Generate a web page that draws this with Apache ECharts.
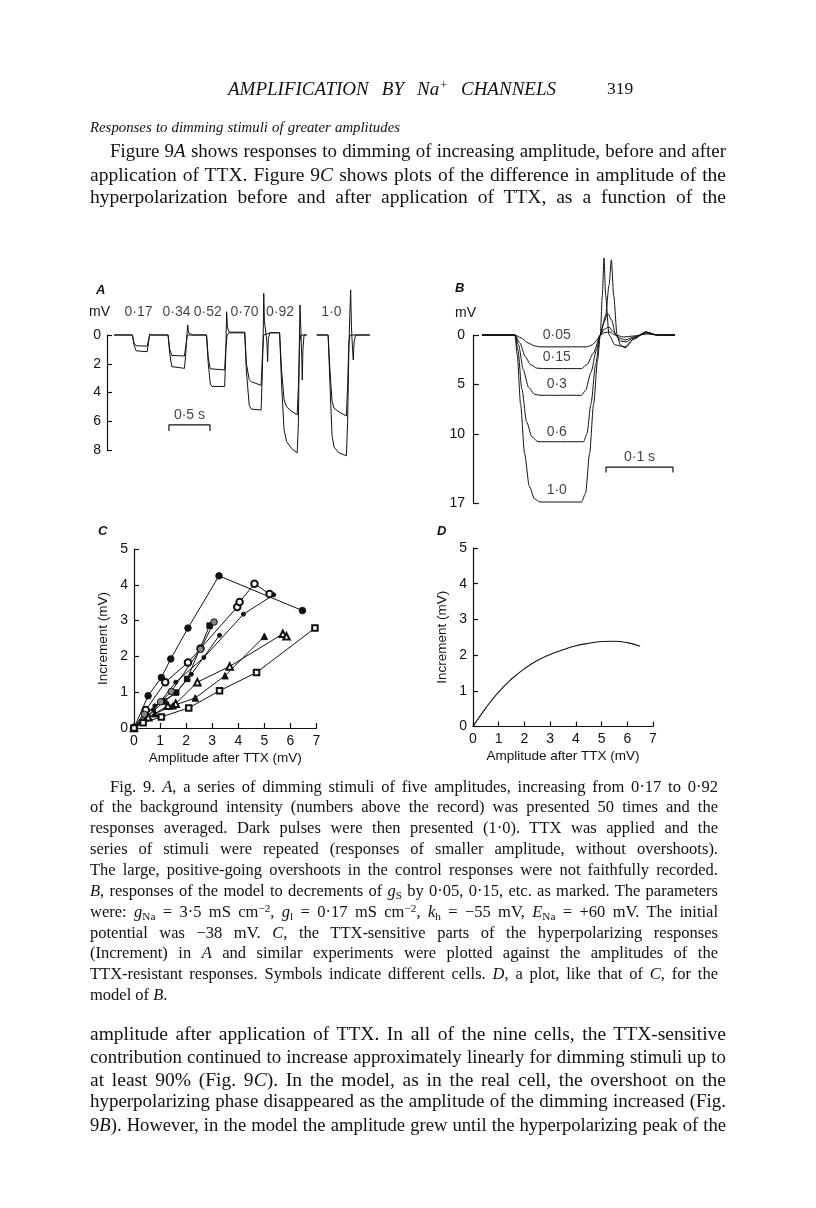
<!DOCTYPE html>
<html><head><meta charset="utf-8">
<script src="https://cdn.jsdelivr.net/npm/echarts@6/dist/echarts.min.js"></script>
<style>
html,body{margin:0;padding:0;background:#fff;}
#chart{position:absolute;left:0;top:0;width:816px;height:1208px;}
.t{position:absolute;font-family:"Liberation Serif","Times New Roman",serif;color:#111;line-height:1;white-space:nowrap;}
.j{text-align:justify;text-align-last:justify;}
sub{font-size:0.68em;vertical-align:-0.3em;line-height:0;}
sup{font-size:0.68em;vertical-align:0.45em;line-height:0;}
</style>
</head><body>
<div id="chart"></div>
<div id="text"></div>
<script>
// ================= DATA =================
// Panel A: time (s) vs hyperpolarization (mV, positive = down)
const aStimLabels = ['0·17','0·34','0·52','0·70','0·92','1·0'];
const aStimLabelTimes = [0.384,0.848,1.23,1.677,2.11,2.738];
const aControl = [[0.085,0],[0.31,0],[0.33,0.7],[0.355,1.1],[0.37,1.16],[0.49,1.16],[0.505,0.6],[0.52,-0.05],[0.53,-0.16],[0.55,0],
[0.745,0],[0.765,1.3],[0.79,2.2],[0.81,2.32],[0.945,2.32],[0.962,1.2],[0.975,0],[0.984,-0.7],[0.995,-0.15],[1.04,0],
[1.214,0],[1.235,2.0],[1.26,3.4],[1.28,3.58],[1.435,3.58],[1.448,1.5],[1.459,-1.62],[1.47,-0.5],[1.49,-0.2],
[1.68,-0.2],[1.70,2.5],[1.735,4.9],[1.76,5.15],[1.88,5.22],[1.895,2.5],[1.905,0],[1.912,-2.9],[1.92,-1.0],[1.95,0.5],[1.959,1.86],[1.968,0.2],[1.99,-0.16],
[2.105,-0.16],[2.13,3.5],[2.16,6.6],[2.19,7.4],[2.25,7.9],[2.32,8.2],[2.335,6.0],[2.345,1.0],[2.354,-2.09],[2.365,-0.3],[2.375,1.5],[2.382,3.13],[2.39,1.0],[2.403,0],[2.435,0],
[2.49,'-'],
[2.557,0],[2.697,0],[2.72,3.5],[2.745,7.0],[2.77,7.8],[2.83,8.2],[2.92,8.4],[2.935,6.0],[2.95,1.0],[2.962,-1.5],[2.972,-3.13],[2.982,-0.5],[2.995,1.0],[3.004,1.74],[3.014,0.5],[3.032,0],[3.207,0]];
const aTTX = [[0.085,0],[0.31,0],[0.33,0.55],[0.355,0.75],[0.37,0.77],[0.49,0.77],[0.505,0.4],[0.52,0],[0.55,0],
[0.745,0],[0.765,1.0],[0.79,1.42],[0.81,1.46],[0.945,1.46],[0.962,0.7],[0.98,0],[1.04,0],
[1.214,0],[1.235,1.6],[1.26,2.35],[1.28,2.43],[1.435,2.43],[1.448,1.0],[1.465,0],[1.49,-0.15],
[1.68,-0.15],[1.70,2.0],[1.735,3.1],[1.76,3.25],[1.88,3.5],[1.895,1.5],[1.91,0],[1.99,-0.15],
[2.105,-0.15],[2.13,2.5],[2.16,4.5],[2.19,5.0],[2.25,5.3],[2.32,5.55],[2.335,3.5],[2.35,0.5],[2.365,0],[2.435,0],
[2.49,'-'],
[2.557,0],[2.697,0],[2.72,2.5],[2.745,4.6],[2.77,5.1],[2.83,5.35],[2.92,5.63],[2.935,3.5],[2.95,0.5],[2.965,0],[3.207,0]];
const aScaleBar = {start:0.756, length:0.5, level:6.25, text:'0·5 s'};

// Panel B: model responses
const bLevels = ['0·05','0·15','0·3','0·6','1·0'];
const bLabelTime = 0.125;
const bLabelDepths = [0.0, 2.2, 5.0, 9.8, 15.7];
const bTicks = [0,5,10,17];
const b005 = [[0.0134,0],[0.0627,0],[0.072,0.3],[0.082,0.8],[0.092,1.1],[0.10,1.2],[0.17,1.2],[0.178,1.0],[0.185,0.5],[0.19,0],[0.197,-0.25],[0.204,-0.3],[0.212,0],[0.225,0.2],[0.24,0.1],[0.26,-0.1],[0.275,0],[0.309,0]];
const b015 = [[0.0134,0],[0.0627,0],[0.070,0.8],[0.078,2.2],[0.086,3.0],[0.095,3.35],[0.105,3.4],[0.162,3.4],[0.170,3.0],[0.18,1.8],[0.19,0],[0.196,-0.6],[0.203,-0.8],[0.21,-0.3],[0.218,0.3],[0.227,0.5],[0.24,0.2],[0.258,-0.2],[0.275,0],[0.309,0]];
const b03 = [[0.0134,0],[0.0627,0],[0.068,1],[0.075,3.5],[0.083,5.3],[0.092,6.0],[0.10,6.1],[0.162,6.1],[0.168,5.6],[0.176,3.8],[0.184,1.6],[0.19,0],[0.195,-1.2],[0.201,-2.2],[0.207,-1.5],[0.213,0],[0.22,0.6],[0.228,0.7],[0.24,0.3],[0.258,-0.3],[0.275,0],[0.309,0]];
const b06 = [[0.0134,0],[0.0627,0],[0.067,1.5],[0.073,5.5],[0.080,8.8],[0.088,10.3],[0.097,10.8],[0.165,10.8],[0.170,10],[0.176,7],[0.183,3],[0.19,0],[0.193,-4],[0.1955,-7.8],[0.198,-4],[0.203,0],[0.212,1.0],[0.227,1.2],[0.24,0.4],[0.258,-0.3],[0.275,0],[0.309,0]];
const b10 = [[0.0134,0],[0.0627,0],[0.066,2],[0.071,7],[0.077,12],[0.084,15.3],[0.092,16.6],[0.10,16.9],[0.162,16.9],[0.168,16],[0.174,12],[0.18,7],[0.186,2.5],[0.19,0],[0.198,-2],[0.203,-5],[0.2065,-7.6],[0.21,-4],[0.215,0],[0.22,1.0],[0.227,1.3],[0.24,0.4],[0.258,-0.3],[0.275,0],[0.309,0]];
const bTraces = [b005,b015,b03,b06,b10];
const bScaleBar = {start:0.1985, length:0.1, level:13.36, text:'0·1 s'};

// Panel C: Increment vs amplitude after TTX (nine cells)
const cCellSymbols = ['circle','emptyCircle','circle','rect','circle','circle','emptyTriangle','triangle','emptyRect'];
const c1 = [[0,0],[0.54,0.90],[1.05,1.41],[1.41,1.93],[2.07,2.79],[3.26,4.25],[6.46,3.28]];
const c2 = [[0,0],[0.45,0.5],[1.2,1.28],[2.07,1.83],[2.55,2.22],[3.96,3.38],[4.05,3.52],[4.62,4.03],[5.2,3.74]];
const c3 = [[0,0],[0.75,0.5],[1.6,1.28],[2.68,1.97],[4.2,3.18],[5.36,3.72]];
const c4 = [[0,0],[0.5,0.3],[1.15,0.74],[1.62,0.99],[2.04,1.37],[2.9,2.86]];
const c5 = [[0,0],[0.4,0.38],[1.02,0.73],[1.43,1.02],[2.55,2.2],[3.07,2.96]];
const c6 = [[0,0],[0.8,0.62],[1.6,0.97],[2.2,1.5],[3.28,2.59]];
const c7 = [[0,0],[0.55,0.3],[1.3,0.62],[1.6,0.68],[2.43,1.28],[3.67,1.72],[5.71,2.63],[5.85,2.56]];
const c8 = [[0,0],[0.8,0.4],[1.5,0.62],[2.35,0.84],[3.49,1.46],[5.0,2.56]];
const c9 = [[0,0],[0.35,0.15],[1.05,0.31],[2.1,0.56],[3.28,1.04],[4.70,1.55],[6.94,2.79]];
const cCells = [c1,c2,c3,c4,c5,c6,c7,c8,c9];

// Panel D: model curve
const dX = [0,0.5,1,1.5,2,2.5,3,3.5,4,4.5,5,5.5,6,6.5];
const dY = [0,0.52,0.97,1.33,1.62,1.85,2.02,2.15,2.26,2.33,2.38,2.39,2.35,2.25];

// ================= TEXT =================
const BODY = 19.5, CAP = 16.5;
const textLines = [
 {y:88, x:228, w:328, it:true, j:true, fs:19, html:'AMPLIFICATION BY Na<sup>+</sup> CHANNELS'},
 {y:88, x:607, fs:17.5, html:'319'},
 {y:127, x:90, w:310, it:true, j:true, fs:17, html:'Responses to dimming stimuli of greater amplitudes'},
 {y:151, x:110, w:616, j:true, fs:BODY, html:'Figure 9<i>A</i> shows responses to dimming of increasing amplitude, before and after'},
 {y:174, x:90, w:636, j:true, fs:BODY, html:'application of TTX. Figure 9<i>C</i> shows plots of the difference in amplitude of the'},
 {y:196, x:90, w:636, j:true, fs:BODY, html:'hyperpolarization before and after application of TTX, as a function of the'},
 {y:786, x:110, w:608, j:true, fs:CAP, html:'Fig. 9. <i>A</i>, a series of dimming stimuli of five amplitudes, increasing from 0·17 to 0·92'},
 {y:806, x:90, w:628, j:true, fs:CAP, html:'of the background intensity (numbers above the record) was presented 50 times and the'},
 {y:827, x:90, w:628, j:true, fs:CAP, html:'responses averaged. Dark pulses were then presented (1·0). TTX was applied and the'},
 {y:848, x:90, w:628, j:true, fs:CAP, html:'series of stimuli were repeated (responses of smaller amplitude, without overshoots).'},
 {y:869, x:90, w:628, j:true, fs:CAP, html:'The large, positive-going overshoots in the control responses were not faithfully recorded.'},
 {y:890, x:90, w:628, j:true, fs:CAP, html:'<i>B</i>, responses of the model to decrements of <i>g</i><sub>S</sub> by 0·05, 0·15, etc. as marked. The parameters'},
 {y:911, x:90, w:628, j:true, fs:CAP, html:'were: <i>g</i><sub>Na</sub> = 3·5 mS cm<sup>−2</sup>, <i>g</i><sub>l</sub> = 0·17 mS cm<sup>−2</sup>, <i>k</i><sub>h</sub> = −55 mV, <i>E</i><sub>Na</sub> = +60 mV. The initial'},
 {y:932, x:90, w:628, j:true, fs:CAP, html:'potential was −38 mV. <i>C</i>, the TTX-sensitive parts of the hyperpolarizing responses'},
 {y:952, x:90, w:628, j:true, fs:CAP, html:'(Increment) in <i>A</i> and similar experiments were plotted against the amplitudes of the'},
 {y:973, x:90, w:628, j:true, fs:CAP, html:'TTX-resistant responses. Symbols indicate different cells. <i>D</i>, a plot, like that of <i>C</i>, for the'},
 {y:994, x:90, fs:CAP, html:'model of <i>B</i>.'},
 {y:1033, x:90, w:636, j:true, fs:BODY, html:'amplitude after application of TTX. In all of the nine cells, the TTX-sensitive'},
 {y:1056, x:90, w:636, j:true, fs:BODY, html:'contribution continued to increase approximately linearly for dimming stimuli up to'},
 {y:1079, x:90, w:636, j:true, fs:BODY, html:'at least 90% (Fig. 9<i>C</i>). In the model, as in the real cell, the overshoot on the'},
 {y:1101, x:90, w:636, j:true, fs:BODY, html:'hyperpolarizing phase disappeared as the amplitude of the dimming increased (Fig.'},
 {y:1124, x:90, w:636, j:true, fs:BODY, html:'9<i>B</i>). However, in the model the amplitude grew until the hyperpolarizing peak of the'}
];
(function(){
  const host = document.getElementById('text');
  textLines.forEach(L=>{
    const d = document.createElement('div');
    d.className = 't';
    let fs = L.fs;
    d.style.fontSize = fs + 'px';
    d.style.left = L.x + 'px';
    if (L.it) d.style.fontStyle = 'italic';
    d.innerHTML = L.html;
    host.appendChild(d);
    if (L.w) {
      // natural width check: shrink if the line would not fit its measure
      const nat = d.getBoundingClientRect().width;
      if (nat > L.w) { fs = fs * L.w / nat * 0.992; d.style.fontSize = fs + 'px'; }
      d.style.width = L.w + 'px';
      if (L.j) d.className = 't j';
    }
    d.style.top = (L.y - fs*0.45) + 'px';
  });
})();

// ================= CHART =================
const chart = echarts.init(document.getElementById('chart'), null, {renderer:'canvas'});
const ink = '#111';
const sans = '"Liberation Sans", Arial, Helvetica, sans-serif';
const lbl = {color:ink, fontFamily:sans, fontSize:14};
const nameLbl = {color:ink, fontFamily:sans, fontSize:13.5};

function axisCommon(extra){
  return Object.assign({
    type:'value',
    axisLine:{show:true, onZero:false, lineStyle:{color:ink, width:1.2}},
    axisTick:{show:true, inside:true, length:5, lineStyle:{color:ink, width:1.2}},
    splitLine:{show:false},
    axisLabel:Object.assign({margin:6}, lbl)
  }, extra);
}

function scaleBarSeries(sb, xi, yi, tick){
  return [{
    type:'line', xAxisIndex:xi, yAxisIndex:yi, symbol:'none', clip:false, silent:true,
    lineStyle:{color:ink, width:1.2},
    data:[[sb.start, sb.level+tick],[sb.start, sb.level],[sb.start+sb.length, sb.level],[sb.start+sb.length, sb.level+tick]]
  },{
    type:'scatter', xAxisIndex:xi, yAxisIndex:yi, symbolSize:0, clip:false, silent:true,
    label:Object.assign({show:true, position:'top', distance:3, formatter:sb.text}, lbl),
    data:[[sb.start+sb.length/2, sb.level]]
  }];
}

const series = [];
// A
series.push({type:'line', xAxisIndex:0, yAxisIndex:0, data:aTTX, symbol:'none', clip:false, lineStyle:{color:ink, width:1}});
series.push({type:'line', xAxisIndex:0, yAxisIndex:0, data:aControl, symbol:'none', clip:false, lineStyle:{color:ink, width:1}});
series.push(...scaleBarSeries(aScaleBar, 0, 0, 0.42));
series.push({type:'scatter', xAxisIndex:0, yAxisIndex:0, symbolSize:0, clip:false, silent:true,
  label:Object.assign({show:true, position:'inside', formatter:p=>p.name}, lbl),
  data:aStimLabels.map((n,i)=>({name:n, value:[aStimLabelTimes[i], -1.6]}))});
// B
bTraces.forEach(tr=>{
  series.push({type:'line', xAxisIndex:1, yAxisIndex:1, data:tr, symbol:'none', clip:false, smooth:0.25, smoothMonotone:'x', lineStyle:{color:ink, width:1}});
});
series.push(...scaleBarSeries(bScaleBar, 1, 1, 0.55));
series.push({type:'scatter', xAxisIndex:1, yAxisIndex:1, symbolSize:0, clip:false, silent:true,
  label:Object.assign({show:true, position:'inside', formatter:p=>p.name}, lbl),
  data:bLevels.map((n,i)=>({name:n, value:[bLabelTime, bLabelDepths[i]]}))});
// C
cCells.forEach((cell,i)=>{
  const sym = cCellSymbols[i];
  const small = (i===2 || i===5);
  const shaded = (i===4);
  series.push({type:'line', xAxisIndex:2, yAxisIndex:2, data:cell, clip:false,
    symbol:sym, symbolSize: small ? 4 : (sym.indexOf('ect')>=0 ? 5.5 : 6.5), showAllSymbol:true,
    lineStyle:{color:ink, width:1},
    itemStyle:{color: shaded ? '#888' : ink, borderColor:ink, borderWidth:1}});
});
// D
series.push({type:'line', xAxisIndex:3, yAxisIndex:3, data:dX.map((x,i)=>[x,dY[i]]), symbol:'none', smooth:0.5, lineStyle:{color:ink, width:1.1}});

const ampName = 'Amplitude after TTX (mV)';
const incName = 'Increment (mV)';
const option = {
  animation:false,
  backgroundColor:'transparent',
  grid:[
    {left:107, top:335, width:264, height:115, containLabel:false, outerBoundsMode:'none'},
    {left:473, top:335, width:201, height:168, containLabel:false, outerBoundsMode:'none'},
    {left:134, top:549, width:182.5, height:179, containLabel:false, outerBoundsMode:'none'},
    {left:473, top:548, width:180, height:178.5, containLabel:false, outerBoundsMode:'none'}
  ],
  xAxis:[
    {gridIndex:0, type:'value', min:0, max:3.22, show:false},
    {gridIndex:1, type:'value', min:0, max:0.3, show:false},
    axisCommon({gridIndex:2, min:0, max:7, interval:1, name:ampName, nameLocation:'middle', nameGap:23, nameTextStyle:nameLbl}),
    axisCommon({gridIndex:3, min:0, max:7, interval:1, name:ampName, nameLocation:'middle', nameGap:23, nameTextStyle:nameLbl})
  ],
  yAxis:[
    axisCommon({gridIndex:0, min:0, max:8, interval:2, inverse:true}),
    axisCommon({gridIndex:1, min:0, max:17, inverse:true,
      axisLabel:Object.assign({margin:8, customValues:bTicks}, lbl),
      axisTick:{show:true, inside:true, length:6, customValues:bTicks, lineStyle:{color:ink, width:1.2}}}),
    axisCommon({gridIndex:2, min:0, max:5, interval:1, name:incName, nameLocation:'middle', nameGap:24, nameRotate:90, nameTextStyle:nameLbl}),
    axisCommon({gridIndex:3, min:0, max:5, interval:1, name:incName, nameLocation:'middle', nameGap:24, nameRotate:90, nameTextStyle:nameLbl})
  ],
  graphic:[
    {type:'text', left:96, top:284, style:{text:'A', font:'italic bold 13px '+sans, fill:ink}},
    {type:'text', left:89, top:305, style:{text:'mV', font:'14px '+sans, fill:ink}},
    {type:'text', left:455, top:282, style:{text:'B', font:'italic bold 13px '+sans, fill:ink}},
    {type:'text', left:455, top:306, style:{text:'mV', font:'14px '+sans, fill:ink}},
    {type:'text', left:98, top:525, style:{text:'C', font:'italic bold 13px '+sans, fill:ink}},
    {type:'text', left:437, top:525, style:{text:'D', font:'italic bold 13px '+sans, fill:ink}}
  ],
  series:series
};
chart.setOption(option);
</script>
</body></html>
